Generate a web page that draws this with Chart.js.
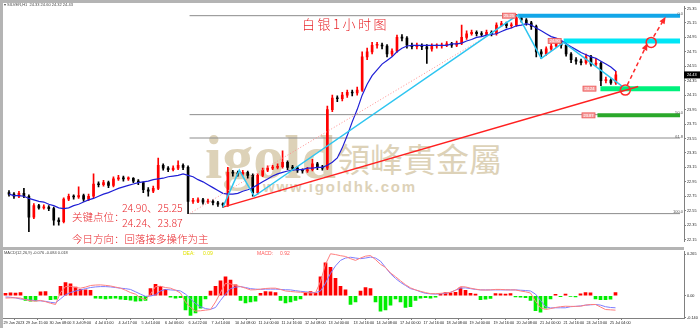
<!DOCTYPE html>
<html>
<head>
<meta charset="utf-8">
<script src="https://cdn.jsdelivr.net/npm/chart.js@4.4.0/dist/chart.umd.min.js"></script>
<style>
  body { margin: 0; background: #fff; }
  #wrap { position: relative; width: 700px; height: 328px; overflow: hidden; background: #fff; }
  .abs { position: absolute; white-space: nowrap; line-height: 1; }
  #mainBox { position: absolute; left: 0; top: 0; width: 700px; height: 248px; z-index: 2; }
  #macdBox { position: absolute; left: 0; top: 248px; width: 700px; height: 80px; z-index: 2; }
  .wm { color: #ddd2b8; z-index: 1; }
  .note { color: #e8262b; z-index: 3; font-family: "Noto Sans CJK SC", sans-serif; font-weight: 300; }
  .tiny { z-index: 3; font-family: "Liberation Sans", Arial, sans-serif; font-size: 4px; color: #444; }
  .bar { position: absolute; background: #b4b4b4; z-index: 4; }
</style>
</head>
<body>
<div id="wrap">
  <div class="abs wm" style="left:205px; top:122px; font: bold 62px 'Liberation Serif', serif;">igold</div>
  <div class="abs wm" style="left:337px; top:134px; font: 400 33px 'Noto Sans CJK TC', sans-serif;">領峰貴金屬</div>
  <div class="abs wm" style="left:263px; top:178px; font: bold 15px 'Liberation Sans', sans-serif; letter-spacing:1.8px;">www.igoldhk.com</div>

  <div id="mainBox"><canvas id="mainChart"></canvas></div>
  <div id="macdBox"><canvas id="macdChart"></canvas></div>

  <div class="bar" style="left:0; top:0; width:700px; height:3px;"></div>
  <div class="bar" style="left:0; top:0; width:2.5px; height:328px;"></div>
  <div class="bar" style="left:0; top:247px; width:684px; height:3px;"></div>

  <div class="abs tiny" style="left:4px; top:3px;">▾ SILVER,H1&nbsp; 24.33 24.60 24.32 24.43</div>
  <div class="abs tiny" style="left:4px; top:251px;">MACD(12,26,9) -0.076 -0.084 0.018</div>
  <div class="abs tiny" style="left:183px; top:251px; font-size:5px; color:#e2e200;">DEA:&nbsp;&nbsp;&nbsp;&nbsp;&nbsp; 0.09</div>
  <div class="abs tiny" style="left:257px; top:251px; font-size:5px; color:#ff5a5a;">MACD:&nbsp;&nbsp;&nbsp;&nbsp; 0.92</div>

  <div class="abs note" style="left:302px; top:17px; font-size:13px; letter-spacing:2.5px;">白银1小时图</div>
  <div class="abs note" style="left:122px; top:203px; font-size:10.5px;">24.90、25.25</div>
  <div class="abs note" style="left:72px; top:212px; font-size:10.5px;">关键点位：</div>
  <div class="abs note" style="left:122px; top:218px; font-size:10.5px;">24.24、23.87</div>
  <div class="abs note" style="left:72px; top:234px; font-size:10.5px;">今日方向：回落接多操作为主</div>
</div>

<script>
// ---- price data (one candle per slot) ----
const firstOpen = 22.80;
const closes = [
  22.78, 22.75, 22.79, 22.75, 22.46, 22.62, 22.59, 22.60, 22.58, 22.42,
  22.40, 22.71, 22.75, 22.74, 22.76, 22.71, 22.75, 22.92, 22.91, 22.94,
  22.90, 22.99, 23.00, 22.99, 23.00, 22.96, 22.94, 22.84, 22.82, 22.86,
  23.18, 23.14, 23.12, 23.14, 23.18, 23.15, 22.68, 22.68, 22.70, 22.67,
  22.68, 22.66, 22.64, 22.63, 23.08, 23.07, 23.06, 23.08, 23.04, 22.80,
  23.04, 23.11, 23.14, 23.15, 23.16, 23.22, 23.15, 23.14, 23.11, 23.10,
  23.12, 23.20, 23.15, 23.14, 23.95, 24.11, 24.10, 24.15, 24.19, 24.18,
  24.22, 24.68, 24.75, 24.84, 24.84, 24.83, 24.72, 24.76, 24.95, 24.94,
  24.84, 24.82, 24.83, 24.82, 24.79, 24.83, 24.83, 24.84, 24.86, 24.84,
  24.87, 24.95, 25.00, 25.02, 25.00, 24.99, 25.02, 25.00, 25.12, 25.14,
  25.11, 25.12, 25.22, 25.19, 25.15, 25.10, 24.75, 24.72, 24.79, 24.83,
  24.88, 24.84, 24.72, 24.64, 24.62, 24.60, 24.68, 24.58, 24.59, 24.35,
  24.36, 24.32, 24.43
];
const highs = [
  22.83, 22.80, 22.82, 22.86, 22.77, 22.65, 22.64, 22.63, 22.62, 22.60,
  22.45, 22.73, 22.78, 22.77, 22.88, 22.78, 22.78, 23.06, 22.95, 22.97,
  22.96, 23.02, 23.04, 23.03, 23.02, 23.01, 22.98, 22.95, 22.87, 22.89,
  23.28, 23.20, 23.16, 23.17, 23.24, 23.20, 23.17, 22.72, 22.73, 22.72,
  22.71, 22.70, 22.68, 22.66, 23.15, 23.11, 23.10, 23.11, 23.10, 23.06,
  23.06, 23.14, 23.17, 23.18, 23.20, 23.38, 23.24, 23.18, 23.16, 23.13,
  23.15, 23.26, 23.22, 23.18, 24.00, 24.15, 24.14, 24.19, 24.22, 24.22,
  24.26, 24.75, 24.80, 24.88, 24.88, 24.87, 24.85, 24.79, 24.98, 24.99,
  24.96, 24.87, 24.87, 24.86, 24.85, 24.86, 24.86, 24.87, 24.89, 24.88,
  24.90, 25.12, 25.04, 25.05, 25.04, 25.03, 25.05, 25.04, 25.15, 25.17,
  25.16, 25.15, 25.27, 25.24, 25.21, 25.17, 25.12, 24.78, 24.82, 24.86,
  24.92, 24.90, 24.86, 24.74, 24.67, 24.65, 24.72, 24.70, 24.66, 24.61,
  24.40, 24.38, 24.48
];
const lows = [
  22.75, 22.72, 22.73, 22.73, 22.26, 22.44, 22.57, 22.57, 22.55, 22.35,
  22.35, 22.38, 22.69, 22.71, 22.72, 22.68, 22.69, 22.73, 22.88, 22.89,
  22.87, 22.88, 22.97, 22.96, 22.97, 22.94, 22.91, 22.80, 22.75, 22.80,
  22.84, 23.11, 23.09, 23.10, 23.12, 23.12, 22.51, 22.65, 22.66, 22.64,
  22.65, 22.63, 22.61, 22.60, 22.61, 23.03, 23.03, 23.04, 23.00, 22.75,
  22.78, 23.02, 23.09, 23.12, 23.13, 23.14, 23.12, 23.11, 23.08, 23.07,
  23.08, 23.10, 23.12, 23.11, 23.12, 23.92, 24.06, 24.07, 24.12, 24.14,
  24.15, 24.20, 24.64, 24.72, 24.80, 24.79, 24.68, 24.69, 24.74, 24.90,
  24.80, 24.79, 24.79, 24.78, 24.59, 24.76, 24.80, 24.80, 24.82, 24.81,
  24.82, 24.85, 24.92, 24.98, 24.97, 24.96, 24.97, 24.97, 24.98, 25.10,
  25.08, 25.08, 25.10, 25.16, 25.12, 25.06, 24.68, 24.66, 24.70, 24.77,
  24.81, 24.80, 24.69, 24.60, 24.58, 24.57, 24.58, 24.55, 24.55, 24.28,
  24.32, 24.30, 24.30
];
const slowMA = [
  22.78, 22.76, 22.76, 22.75, 22.72, 22.70, 22.68, 22.67, 22.64, 22.62,
  22.59, 22.58, 22.59, 22.62, 22.64, 22.67, 22.70, 22.72, 22.75, 22.78,
  22.80, 22.83, 22.86, 22.88, 22.90, 22.92, 22.94, 22.95, 22.96, 22.98,
  22.99, 23.00, 23.02, 23.03, 23.04, 23.06, 23.04, 23.02, 22.98, 22.95,
  22.91, 22.87, 22.83, 22.79, 22.78, 22.78, 22.79, 22.82, 22.84, 22.87,
  22.91, 22.95, 22.99, 23.03, 23.06, 23.08, 23.10, 23.11, 23.12, 23.12,
  23.14, 23.14, 23.15, 23.15, 23.18, 23.22, 23.28, 23.42, 23.59, 23.78,
  23.95, 24.15, 24.30, 24.42, 24.50, 24.58, 24.63, 24.68, 24.75, 24.80,
  24.83, 24.84, 24.84, 24.84, 24.84, 24.84, 24.84, 24.84, 24.84, 24.86,
  24.86, 24.87, 24.90, 24.92, 24.95, 24.96, 24.98, 24.99, 25.00, 25.03,
  25.06, 25.08, 25.11, 25.12, 25.14, 25.12, 25.08, 25.04, 25.00, 24.96,
  24.94, 24.91, 24.86, 24.82, 24.78, 24.74, 24.71, 24.68, 24.66, 24.62,
  24.58, 24.54, 24.48
];
const lastPrice = 24.43;
const priceTicks = [25.35, 25.15, 24.95, 24.75, 24.55, 24.35, 24.15, 23.95, 23.75,
  23.55, 23.35, 23.15, 22.95, 22.75, 22.55, 22.35, 22.15];

// ---- MACD panel ----
const macdLine = [
  -0.015, -0.014, -0.013, -0.015, -0.025, -0.032, -0.035, -0.030, -0.038, -0.048,
  -0.056, 0.020, 0.058, 0.060, 0.052, 0.048, 0.055, 0.065, 0.068, 0.069,
  0.066, 0.062, 0.055, 0.048, 0.035, 0.020, 0.010, -0.015, -0.025, 0.010,
  0.058, 0.060, 0.052, 0.048, 0.035, 0.017, -0.040, -0.075, -0.098, -0.096,
  -0.092, -0.088, -0.040, 0.020, 0.079, 0.075, 0.065, 0.058, 0.048, 0.037,
  0.038, 0.042, 0.046, 0.048, 0.048, 0.040, 0.030, 0.027, 0.024, 0.022,
  0.020, 0.017, 0.018, 0.090, 0.200, 0.267, 0.262, 0.255, 0.250, 0.236,
  0.225, 0.240, 0.252, 0.256, 0.230, 0.200, 0.180, 0.145, 0.121, 0.095,
  0.070, 0.050, 0.037, 0.028, 0.020, 0.013, 0.013, 0.015, 0.018, 0.021,
  0.035, 0.058, 0.056, 0.048, 0.042, 0.037, 0.036, 0.037, 0.040, 0.040,
  0.038, 0.037, 0.037, 0.030, 0.025, 0.017, -0.035, -0.077, -0.088, -0.082,
  -0.075, -0.070, -0.067, -0.068, -0.068, -0.067, -0.060, -0.056, -0.056, -0.072,
  -0.088, -0.090, -0.092
];
const signalLine = [
  -0.008, -0.010, -0.014, -0.021, -0.024, -0.028, -0.031, -0.033, -0.036, -0.042,
  -0.046, -0.020, 0.006, 0.020, 0.030, 0.037, 0.045, 0.052, 0.056, 0.058,
  0.058, 0.056, 0.052, 0.048, 0.045, 0.040, 0.025, 0.010, -0.004, -0.002,
  0.006, 0.030, 0.040, 0.037, 0.035, 0.030, 0.010, -0.020, -0.050, -0.070,
  -0.082, -0.087, -0.075, -0.030, 0.010, 0.045, 0.055, 0.058, 0.052, 0.045,
  0.042, 0.040, 0.042, 0.042, 0.042, 0.040, 0.038, 0.037, 0.032, 0.028,
  0.025, 0.021, 0.020, 0.030, 0.080, 0.142, 0.190, 0.225, 0.240, 0.245,
  0.240, 0.236, 0.240, 0.246, 0.240, 0.220, 0.180, 0.140, 0.110, 0.085,
  0.065, 0.045, 0.037, 0.025, 0.015, 0.012, 0.010, 0.012, 0.015, 0.022,
  0.035, 0.048, 0.050, 0.045, 0.040, 0.037, 0.037, 0.037, 0.037, 0.037,
  0.037, 0.037, 0.037, 0.035, 0.033, 0.030, 0.010, -0.030, -0.070, -0.078,
  -0.077, -0.077, -0.077, -0.070, -0.068, -0.065, -0.060, -0.058, -0.056, -0.060,
  -0.070, -0.075, -0.077
];
const macdHist = [
  0.015, 0.018, 0.016, 0.020, -0.030, -0.035, -0.033, 0.025, 0.027, -0.025,
  -0.022, 0.060, 0.083, 0.075, 0.055, 0.040, 0.037, 0.035, -0.015, -0.018,
  -0.020, -0.018, -0.015, -0.022, -0.025, -0.028, -0.035, -0.033, -0.030, 0.045,
  0.073, 0.060, 0.040, -0.010, -0.015, -0.012, -0.090, -0.125, -0.110, -0.080,
  -0.020, 0.030, 0.060, 0.095, 0.120, 0.100, 0.070, -0.030, -0.046, -0.040,
  -0.035, 0.015, 0.027, 0.025, 0.020, -0.030, -0.046, -0.040, -0.030, -0.020,
  0.020, 0.027, 0.015, 0.120, 0.210, 0.180, 0.110, 0.060, 0.037, -0.056,
  -0.040, 0.030, 0.052, 0.045, -0.040, -0.098, -0.090, -0.060, -0.020, -0.040,
  -0.075, -0.070, -0.030, -0.015, -0.012, -0.015, -0.010, 0.010, 0.020, 0.018,
  0.022, 0.050, 0.035, 0.015, 0.010, -0.025, -0.022, -0.018, 0.013, 0.012,
  0.010, 0.013, -0.008, -0.010, -0.012, -0.030, -0.095, -0.105, -0.080, -0.020,
  0.008, -0.006, 0.010, -0.005, -0.008, 0.012, 0.020, 0.018, -0.020, -0.025,
  -0.025, -0.022, 0.020
];
const macdTicks = [0.265, 0, -0.14];
const macdTickText = ['0.265', '0.00', '-0.140'];

// ---- time axis ----
const timeLabels = ['29 Jun 2023', '29 Jun 15:00', '30 Jun 08:00', '3 Jul 09:00', '4 Jul 01:00',
  '4 Jul 17:00', '5 Jul 14:00', '6 Jul 06:00', '6 Jul 22:00', '7 Jul 14:00', '10 Jul 08:00',
  '11 Jul 00:00', '11 Jul 16:00', '12 Jul 08:00', '13 Jul 00:00', '13 Jul 16:00', '14 Jul 08:00',
  '17 Jul 00:00', '17 Jul 16:00', '18 Jul 08:00', '19 Jul 00:00', '19 Jul 16:00', '20 Jul 08:00',
  '21 Jul 00:00', '21 Jul 16:00', '24 Jul 13:00', '25 Jul 04:00'];
const timeSlots = [-0.4, 4.1, 8.8, 13.4, 17.9, 22.6, 27.2, 31.9, 36.6, 41.2, 45.9,
  50.6, 55.2, 59.9, 64.6, 69.6, 74.2, 78.9, 83.6, 88.2, 92.8, 97.6, 102.2,
  106.9, 111.6, 116.2, 120.9];

// ---- drawn objects (slot, price) ----
const redTrend = [{ x: 43, y: 22.60 }, { x: 126.5, y: 24.27 }];
const dottedTrend = [{ x: 36.3, y: 22.51 }, { x: 96.9, y: 25.00 }];
const zigzag = [{ x: 43, y: 22.60 }, { x: 46.3, y: 23.11 }, { x: 49.3, y: 22.75 },
  { x: 102.3, y: 25.26 }, { x: 107, y: 24.66 }, { x: 111.5, y: 24.88 }, { x: 123.5, y: 24.26 }];
const keyLevels = [25.25, 24.90, 24.24, 23.87];
const levelStart = [102.3, 111.5, 118.9, 118.3];
const levelEnd = 134.9;
const fibHigh = 25.25, fibLow = 22.51;
const fibRatios = [0, 0.5, 0.618, 1];
const fibText = ['0.0', '50.0', '61.8', '100.0'];
const fibStart = 36.3;
const targets = [{ x: 123.9, y: 24.22 }, { x: 129.1, y: 24.88 }];
const arrowPaths = [
  [{ x: 124.3, y: 24.29 }, { x: 128.1, y: 24.83 }],
  [{ x: 129.6, y: 24.96 }, { x: 131.7, y: 25.20 }]
];
const priceTags = [
  { x: 100.5, y: 25.25, text: '25.25' },
  { x: 109.7, y: 24.90, text: '24.90' },
  { x: 116.7, y: 24.24, text: '24.24' },
  { x: 116.5, y: 23.87, text: '23.87' }
];

const xMin = -0.5, xMax = 135.7;
const tinyFont = { size: 3.8, family: 'Liberation Sans' };

// ---- build datasets ----
const opens = closes.map((c, i) => (i === 0 ? firstOpen : closes[i - 1]));
const candleColors = closes.map((c, i) => (c >= opens[i] ? '#ff0000' : '#000000'));
const levelStyles = [
  { color: '#12a6e8', width: 4 },
  { color: '#00e6f6', width: 5 },
  { color: '#00f07c', width: 5 },
  { color: '#2aa82a', width: 4 }
];

function lineSet(data, color, width, extra) {
  return Object.assign({
    type: 'line', data: data, borderColor: color, borderWidth: width,
    pointRadius: 0, tension: 0, fill: false, order: 1
  }, extra || {});
}

const mainSets = [];
arrowPaths.forEach(p => mainSets.push(lineSet(p, '#ff2a2a', 1.5, { borderDash: [4, 3], order: 0 })));
mainSets.push({
  type: 'line', data: targets, showLine: false, pointRadius: 5, pointBorderWidth: 1.5,
  pointBorderColor: '#ff2a2a', pointBackgroundColor: 'rgba(0,0,0,0)', order: 0
});
mainSets.push(lineSet(zigzag, '#2ec5f0', 1.5));
mainSets.push(lineSet(redTrend, '#ff2020', 1.5));
mainSets.push(lineSet(dottedTrend, '#ff8c8c', 1, { borderDash: [1, 2] }));
mainSets.push(lineSet(slowMA.map((v, i) => ({ x: i, y: v })), '#1f1fd6', 1.2, { order: 2 }));
keyLevels.forEach((lv, k) => {
  mainSets.push(lineSet([{ x: levelStart[k], y: lv }, { x: levelEnd, y: lv }],
    levelStyles[k].color, levelStyles[k].width, { order: 3, borderCapStyle: 'butt' }));
});
mainSets.push({
  type: 'bar', data: closes.map((c, i) => ({ x: i, y: [opens[i], c] })),
  backgroundColor: candleColors, barThickness: 2, minBarLength: 1, grouped: false, order: 5
});
mainSets.push({
  type: 'bar', data: closes.map((c, i) => ({ x: i, y: [lows[i], highs[i]] })),
  backgroundColor: candleColors, barThickness: 1, grouped: false, order: 6
});
fibRatios.forEach(r => {
  const p = fibHigh - r * (fibHigh - fibLow);
  mainSets.push(lineSet([{ x: fibStart, y: p }, { x: levelEnd, y: p }], '#8c8c8c', 1, { order: 7 }));
});

// ---- overlay plugin: arrow heads, price tags, fib labels, last price ----
const overlayPlugin = {
  id: 'overlay',
  afterDatasetsDraw(chart) {
    const { ctx, scales: { x, y } } = chart;
    ctx.save();
    ctx.fillStyle = '#ff2a2a';
    arrowPaths.forEach(path => {
      const a = path[0], b = path[1];
      const x0 = x.getPixelForValue(a.x), y0 = y.getPixelForValue(a.y);
      const x1 = x.getPixelForValue(b.x), y1 = y.getPixelForValue(b.y);
      const ang = Math.atan2(y1 - y0, x1 - x0);
      const c = Math.cos(ang), s = Math.sin(ang);
      ctx.beginPath();
      ctx.moveTo(x1 + c * 3, y1 + s * 3);
      ctx.lineTo(x1 - c * 4 - s * 3, y1 - s * 4 + c * 3);
      ctx.lineTo(x1 - c * 4 + s * 3, y1 - s * 4 - c * 3);
      ctx.closePath();
      ctx.fill();
    });

    ctx.font = '4px "Liberation Sans"';
    ctx.textAlign = 'center';
    ctx.textBaseline = 'middle';
    priceTags.forEach(t => {
      const px = x.getPixelForValue(t.x), py = y.getPixelForValue(t.y);
      ctx.fillStyle = '#f4a0a0';
      ctx.fillRect(px - 6.5, py - 2.5, 13, 5);
      ctx.strokeStyle = '#ee5555';
      ctx.lineWidth = 0.8;
      ctx.strokeRect(px - 6.5, py - 2.5, 13, 5);
      ctx.fillStyle = '#ffffff';
      ctx.fillText(t.text, px, py + 0.3);
    });

    ctx.textAlign = 'right';
    ctx.textBaseline = 'bottom';
    ctx.fillStyle = '#555';
    fibRatios.forEach((r, k) => {
      const py = y.getPixelForValue(fibHigh - r * (fibHigh - fibLow));
      ctx.fillText(fibText[k], x.getPixelForValue(levelEnd) + 3, py + 0.5);
    });
    ctx.restore();
  },
  afterDraw(chart) {
    const { ctx, chartArea, scales: { y } } = chart;
    const py = y.getPixelForValue(lastPrice);
    ctx.save();
    ctx.fillStyle = '#000';
    ctx.fillRect(chartArea.right, py - 3.5, 16, 7);
    ctx.fillStyle = '#fff';
    ctx.font = '3.8px "Liberation Sans"';
    ctx.textBaseline = 'middle';
    ctx.fillText(lastPrice.toFixed(2), chartArea.right + 3, py);
    ctx.restore();
  }
};

new Chart(document.getElementById('mainChart'), {
  type: 'bar',
  data: { datasets: mainSets },
  options: {
    responsive: true,
    maintainAspectRatio: false,
    devicePixelRatio: 1,
    animation: false,
    events: [],
    layout: { padding: { left: 3, top: 3, right: 0, bottom: 1 } },
    plugins: { legend: { display: false }, tooltip: { enabled: false } },
    scales: {
      x: { type: 'linear', min: xMin, max: xMax, offset: false, display: false },
      y: {
        type: 'linear', position: 'right', min: 22.124, max: 25.377,
        afterBuildTicks: s => { s.ticks = priceTicks.map(v => ({ value: v })); },
        afterFit: s => { s.width = 16; },
        border: { display: true, color: '#808080' },
        grid: { drawOnChartArea: false, tickLength: 2, color: '#808080' },
        ticks: { font: tinyFont, color: '#222', padding: 1, callback: v => v.toFixed(2) }
      }
    }
  },
  plugins: [overlayPlugin]
});

new Chart(document.getElementById('macdChart'), {
  type: 'bar',
  data: {
    datasets: [
      lineSet(macdLine.map((v, i) => ({ x: i, y: v })), '#ff7f7f', 1, { order: 0 }),
      lineSet(signalLine.map((v, i) => ({ x: i, y: v })), '#7d7dff', 1, { order: 1 }),
      {
        type: 'bar', data: macdHist.map((v, i) => ({ x: i, y: v })),
        backgroundColor: macdHist.map(v => (v >= 0 ? '#ff0000' : '#00ee00')),
        barThickness: 3, grouped: false, order: 2
      }
    ]
  },
  options: {
    responsive: true,
    maintainAspectRatio: false,
    devicePixelRatio: 1,
    animation: false,
    events: [],
    layout: { padding: { left: 3, top: 2, right: 0, bottom: 0 } },
    plugins: { legend: { display: false }, tooltip: { enabled: false } },
    scales: {
      x: {
        type: 'linear', min: xMin, max: xMax, offset: false,
        afterBuildTicks: s => { s.ticks = timeSlots.map(v => ({ value: v })); },
        afterFit: s => { s.height = 10; },
        border: { display: true, color: '#808080' },
        grid: { drawOnChartArea: false, tickLength: 2, color: '#808080' },
        ticks: {
          font: tinyFont, color: '#222', padding: 1, align: 'start',
          autoSkip: false, maxRotation: 0, callback: (v, i) => timeLabels[i]
        }
      },
      y: {
        type: 'linear', position: 'right', min: -0.142, max: 0.283,
        afterBuildTicks: s => { s.ticks = macdTicks.map(v => ({ value: v })); },
        afterFit: s => { s.width = 16; },
        border: { display: true, color: '#808080' },
        grid: { drawOnChartArea: false, tickLength: 2, color: '#808080' },
        ticks: { font: tinyFont, color: '#222', padding: 1, callback: (v, i) => macdTickText[i] }
      }
    }
  }
});
</script>
</body>
</html>
